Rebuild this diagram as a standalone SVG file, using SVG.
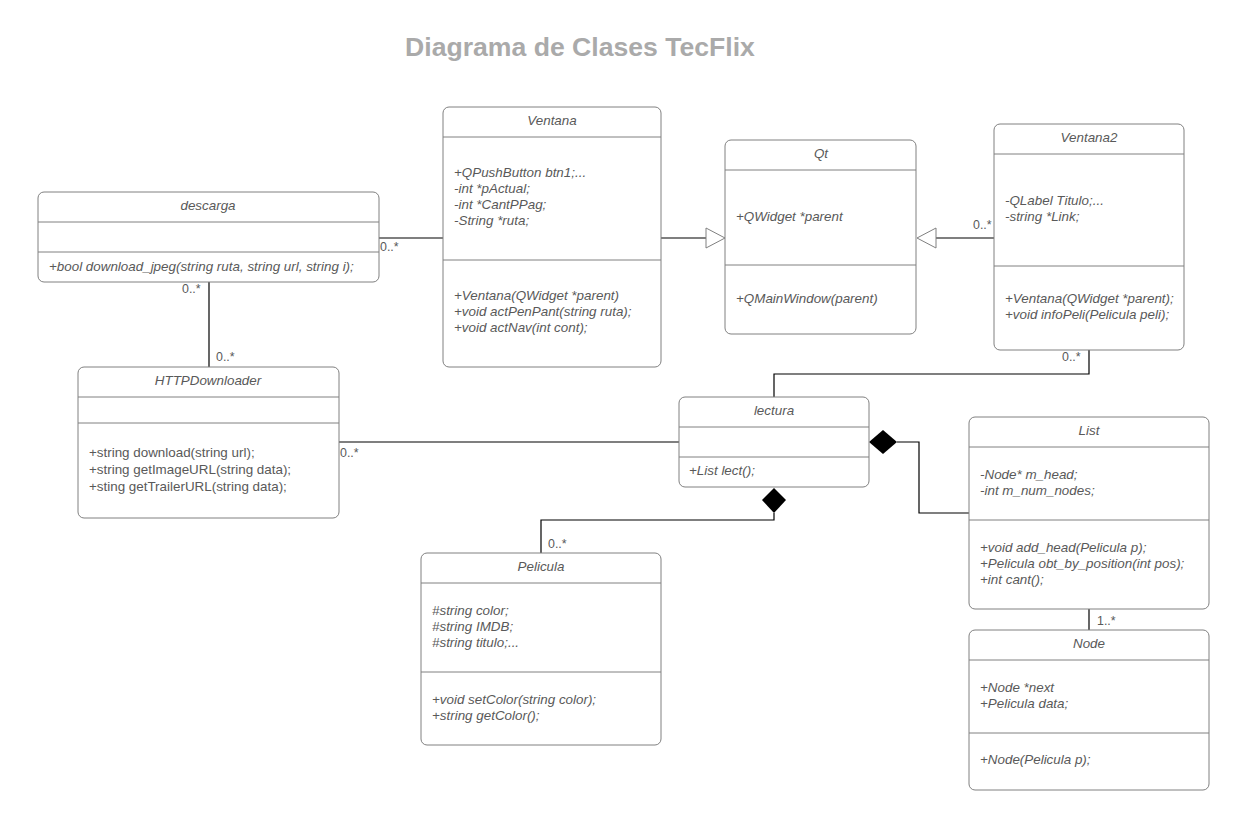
<svg xmlns="http://www.w3.org/2000/svg" width="1243" height="827" viewBox="0 0 1243 827">
<style>
.box{fill:#fff;stroke:#808080;stroke-width:1}
.div{stroke:#808080;stroke-width:1}
.t{font-family:"Liberation Sans",Arial,sans-serif;font-size:13.4px;fill:#595959;font-style:italic}
.n{font-style:normal}
.c{text-anchor:middle}
.lbl{font-family:"Liberation Sans",Arial,sans-serif;font-size:12.4px;fill:#595959}
.ln{fill:none;stroke:#000;stroke-width:1.2}
.tri{fill:#fff;stroke:#808080;stroke-width:1}
.dia{fill:#000}
</style>
<rect width="1243" height="827" fill="#fff"/>
<text x="580" y="56" text-anchor="middle" font-family="'Liberation Sans',Arial,sans-serif" font-size="26.6" font-weight="bold" fill="#aaaaaa">Diagrama de Clases TecFlix</text>

<g id="connectors">
<line class="ln" x1="379" y1="238" x2="443" y2="238"/>
<line class="ln" x1="209" y1="282" x2="209" y2="367"/>
<line class="ln" x1="661" y1="238" x2="706" y2="238"/>
<polygon class="tri" points="706,228 725,238 706,248"/>
<line class="ln" x1="994" y1="238" x2="936" y2="238"/>
<polygon class="tri" points="936,228 917,238 936,248"/>
<polyline class="ln" points="1089,350 1089,374 774,374 774,397"/>
<line class="ln" x1="339" y1="442" x2="679" y2="442"/>
<polyline class="ln" points="897,442 919,442 919,513 969,513"/>
<polygon class="dia" points="869,442 883,430 897,442 883,454"/>
<polyline class="ln" points="774,513 774,520 541,520 541,553"/>
<polygon class="dia" points="774,488 786,500 774,513 762,500"/>
<line class="ln" x1="1089" y1="609" x2="1089" y2="630"/>
<text class="lbl" x="380" y="251">0..*</text>
<text class="lbl" x="182" y="293">0..*</text>
<text class="lbl" x="216" y="361">0..*</text>
<text class="lbl" x="973" y="229">0..*</text>
<text class="lbl" x="1062" y="361">0..*</text>
<text class="lbl" x="340" y="457">0..*</text>
<text class="lbl" x="548" y="548">0..*</text>
<text class="lbl" x="1097" y="625">1..*</text>
</g>

<g id="descarga">
<rect class="box" x="38" y="192" width="341" height="90" rx="6"/>
<line class="div" x1="38" y1="222" x2="379" y2="222"/>
<line class="div" x1="38" y1="252" x2="379" y2="252"/>
<text class="t c" x="208" y="210">descarga</text>
<text class="t" x="49" y="271">+bool download_jpeg(string ruta, string url, string i);</text>
</g>

<g id="Ventana">
<rect class="box" x="443" y="107" width="218" height="260" rx="6"/>
<line class="div" x1="443" y1="137" x2="661" y2="137"/>
<line class="div" x1="443" y1="260" x2="661" y2="260"/>
<text class="t c" x="552" y="125">Ventana</text>
<text class="t" x="454" y="177">+QPushButton btn1;...</text>
<text class="t" x="454" y="193">-int *pActual;</text>
<text class="t" x="454" y="209">-int *CantPPag;</text>
<text class="t" x="454" y="225">-String *ruta;</text>
<text class="t" x="454" y="300">+Ventana(QWidget *parent)</text>
<text class="t" x="454" y="316">+void actPenPant(string ruta);</text>
<text class="t" x="454" y="332">+void actNav(int cont);</text>
</g>

<g id="Qt">
<rect class="box" x="725" y="140" width="191" height="194" rx="6"/>
<line class="div" x1="725" y1="170" x2="916" y2="170"/>
<line class="div" x1="725" y1="265" x2="916" y2="265"/>
<text class="t c" x="821" y="158">Qt</text>
<text class="t" x="736" y="221">+QWidget *parent</text>
<text class="t" x="736" y="303">+QMainWindow(parent)</text>
</g>

<g id="Ventana2">
<rect class="box" x="994" y="124" width="190" height="226" rx="6"/>
<line class="div" x1="994" y1="154" x2="1184" y2="154"/>
<line class="div" x1="994" y1="266" x2="1184" y2="266"/>
<text class="t c" x="1089" y="142">Ventana2</text>
<text class="t" x="1005" y="205">-QLabel Titulo;...</text>
<text class="t" x="1005" y="221">-string *Link;</text>
<text class="t" x="1005" y="303">+Ventana(QWidget *parent);</text>
<text class="t" x="1005" y="319">+void infoPeli(Pelicula peli);</text>
</g>

<g id="HTTPDownloader">
<rect class="box" x="78" y="367" width="261" height="151" rx="6"/>
<line class="div" x1="78" y1="397" x2="339" y2="397"/>
<line class="div" x1="78" y1="423" x2="339" y2="423"/>
<text class="t c" x="208" y="385">HTTPDownloader</text>
<text class="t n" x="89" y="457">+string download(string url);</text>
<text class="t n" x="89" y="474">+string getImageURL(string data);</text>
<text class="t n" x="89" y="491">+sting getTrailerURL(string data);</text>
</g>

<g id="lectura">
<rect class="box" x="679" y="397" width="190" height="90" rx="6"/>
<line class="div" x1="679" y1="427" x2="869" y2="427"/>
<line class="div" x1="679" y1="457" x2="869" y2="457"/>
<text class="t c" x="774" y="415">lectura</text>
<text class="t" x="689" y="475">+List lect();</text>
</g>

<g id="List">
<rect class="box" x="969" y="417" width="240" height="192" rx="6"/>
<line class="div" x1="969" y1="447" x2="1209" y2="447"/>
<line class="div" x1="969" y1="520" x2="1209" y2="520"/>
<text class="t c" x="1089" y="435">List</text>
<text class="t" x="980" y="479">-Node* m_head;</text>
<text class="t" x="980" y="495">-int m_num_nodes;</text>
<text class="t" x="980" y="552">+void add_head(Pelicula p);</text>
<text class="t" x="980" y="568">+Pelicula obt_by_position(int pos);</text>
<text class="t" x="980" y="584">+int cant();</text>
</g>

<g id="Pelicula">
<rect class="box" x="421" y="553" width="240" height="192" rx="6"/>
<line class="div" x1="421" y1="583" x2="661" y2="583"/>
<line class="div" x1="421" y1="672" x2="661" y2="672"/>
<text class="t c" x="541" y="571">Pelicula</text>
<text class="t" x="432" y="615">#string color;</text>
<text class="t" x="432" y="631">#string IMDB;</text>
<text class="t" x="432" y="647">#string titulo;...</text>
<text class="t" x="432" y="704">+void setColor(string color);</text>
<text class="t" x="432" y="720">+string getColor();</text>
</g>

<g id="Node">
<rect class="box" x="969" y="630" width="240" height="160" rx="6"/>
<line class="div" x1="969" y1="660" x2="1209" y2="660"/>
<line class="div" x1="969" y1="733" x2="1209" y2="733"/>
<text class="t c" x="1089" y="648">Node</text>
<text class="t" x="980" y="692">+Node *next</text>
<text class="t" x="980" y="708">+Pelicula data;</text>
<text class="t" x="980" y="764">+Node(Pelicula p);</text>
</g>
</svg>
